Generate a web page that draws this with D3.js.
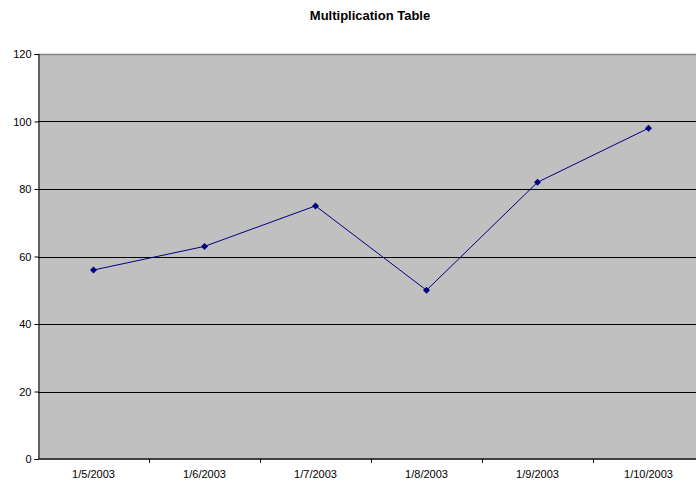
<!DOCTYPE html>
<html><head><meta charset="utf-8">
<script src="https://cdn.jsdelivr.net/npm/d3@7"></script>
<style>body{margin:0;background:#fff}svg{display:block;font-family:"Liberation Sans",Arial,sans-serif}</style>
</head><body><svg id="c" width="696" height="483"></svg>
<script>
const categories = ["1/5/2003","1/6/2003","1/7/2003","1/8/2003","1/9/2003","1/10/2003"];
const values = [56,63,75,50,82,98];
const yTicks = [0,20,40,60,80,100,120];
const title = "Multiplication Table";

const svg = d3.select("#c");
const L = 38, R = 704, T = 54, B = 459;
const x = d3.scaleBand().domain(categories).range([L, R]);
const y = d3.scaleLinear().domain([0,120]).range([B, T]);

svg.append("rect").attr("x",L).attr("y",T).attr("width",R-L).attr("height",B-T).attr("fill","#C0C0C0");
svg.append("line").attr("x1",L).attr("x2",R).attr("y1",T+0.5).attr("y2",T+0.5).attr("stroke","#808080").attr("stroke-width",1.5);

// gridlines
svg.append("g").selectAll("line").data(yTicks.filter(d=>d>0 && d<120)).join("line")
  .attr("x1",L).attr("x2",R).attr("y1",d=>Math.round(y(d))+0.5).attr("y2",d=>Math.round(y(d))+0.5)
  .attr("stroke","#000").attr("stroke-width",1);

// y axis
const ya = svg.append("g").attr("transform",`translate(${L+0.5},0)`)
  .call(d3.axisLeft(y).tickValues(yTicks).tickSize(4).tickPadding(3));
ya.select(".domain").attr("stroke","#000");
ya.selectAll("line").attr("stroke","#000");
ya.selectAll("text").attr("font-size",11).attr("fill","#000").attr("font-family","Liberation Sans, Arial, sans-serif");

// x axis
const xa = svg.append("g").attr("transform",`translate(0,${B})`)
  .call(d3.axisBottom(x).tickSize(0).tickPadding(11));
xa.select(".domain").remove();
xa.selectAll("text").attr("font-size",11).attr("fill","#000").attr("font-family","Liberation Sans, Arial, sans-serif");
svg.append("line").attr("x1",L).attr("x2",R).attr("y1",B).attr("y2",B).attr("stroke","#404040").attr("stroke-width",2);
svg.append("g").selectAll("line").data(categories.slice(1)).join("line")
  .attr("x1",d=>Math.round(x(d))+0.5).attr("x2",d=>Math.round(x(d))+0.5)
  .attr("y1",B).attr("y2",B+4).attr("stroke","#000");

// line
const line = d3.line().x((d,i)=>x(categories[i])+x.bandwidth()/2).y(d=>y(d));
svg.append("path").datum(values).attr("d",line).attr("fill","none").attr("stroke","#000080").attr("stroke-width",1);
svg.append("g").selectAll("path").data(values).join("path")
  .attr("transform",(d,i)=>`translate(${x(categories[i])+x.bandwidth()/2},${y(d)})`)
  .attr("d","M0,-3.5L3.5,0L0,3.5L-3.5,0Z").attr("fill","#000080");

svg.append("text").attr("x",370).attr("y",20).attr("text-anchor","middle")
  .attr("font-size",13).attr("font-weight","bold").attr("fill","#000").text(title);
</script></body></html>
